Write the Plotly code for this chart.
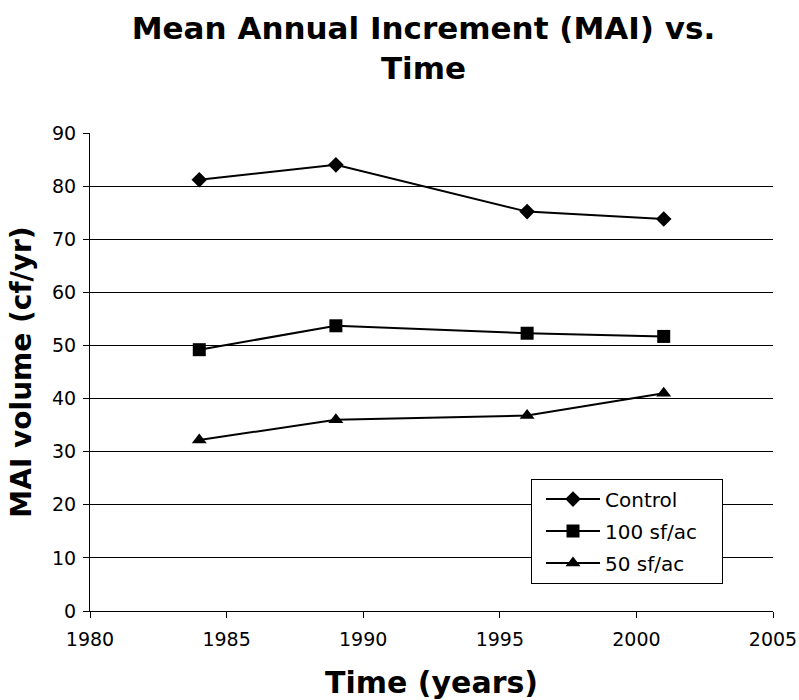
import plotly.graph_objects as go

years = [1984, 1989, 1996, 2001]
control = [81.2, 84.0, 75.2, 73.8]
sf100 = [49.2, 53.7, 52.3, 51.7]
sf50 = [32.2, 36.0, 36.8, 41.0]
series_names = ["Control", "100 sf/ac", "50 sf/ac"]
x_ticks = [1980, 1985, 1990, 1995, 2000, 2005]
y_ticks = [0, 10, 20, 30, 40, 50, 60, 70, 80, 90]

FONT = "DejaVu Sans, Verdana, sans-serif"
PAD = "\u00a0\u00a0\u00a0"  # right padding inside the legend box

fig = go.Figure()
symbols = ["diamond", "square", "triangle-up"]
sizes = [12, 13, 13]
for name, vals, sym, sz in zip(series_names, [control, sf100, sf50], symbols, sizes):
    fig.add_trace(go.Scatter(
        x=years, y=vals, name=name + PAD, mode="lines+markers", legendgroup=name,
        line=dict(color="black", width=2),
        marker=dict(symbol=sym, size=sz, color="black"),
    ))

fig.update_layout(
    width=799, height=700,
    paper_bgcolor="white", plot_bgcolor="white",
    margin=dict(l=90, r=26, t=133, b=89),
    font=dict(family=FONT, size=19, color="black"),
    title=dict(
        text="<b>Mean Annual Increment (MAI) vs.<br>Time</b>",
        x=0.530, xanchor="center", y=0.945, yanchor="top", yref="container",
        font=dict(family=FONT, size=31, color="black"),
    ),
    xaxis=dict(
        range=[1980, 2005], tickvals=x_ticks, ticktext=[str(v) for v in x_ticks],
        showgrid=False, zeroline=False, automargin=False,
        showline=True, linecolor="black", linewidth=1,
        ticks="outside", ticklen=6, tickcolor="black", ticklabelstandoff=5,
        title=dict(text="<b>Time (years)</b>", font=dict(family=FONT, size=30), standoff=24),
        tickfont=dict(size=19),
    ),
    yaxis=dict(
        range=[0, 90], tickvals=y_ticks, automargin=False,
        showgrid=True, gridcolor="black", gridwidth=1, zeroline=False,
        showline=True, linecolor="black", linewidth=1,
        ticks="outside", ticklen=6, tickcolor="black", ticklabelstandoff=3,
        title=dict(text="<b>MAI volume (cf/yr)</b>", font=dict(family=FONT, size=28), standoff=12),
        tickfont=dict(size=19),
    ),
    legend=dict(
        x=0.6457, y=0.277, xanchor="left", yanchor="top",
        bordercolor="black", borderwidth=1, bgcolor="white",
        font=dict(family=FONT, size=20), tracegroupgap=3, itemwidth=54,
        indentation=9,
    ),
)

fig.write_html("out.html")
